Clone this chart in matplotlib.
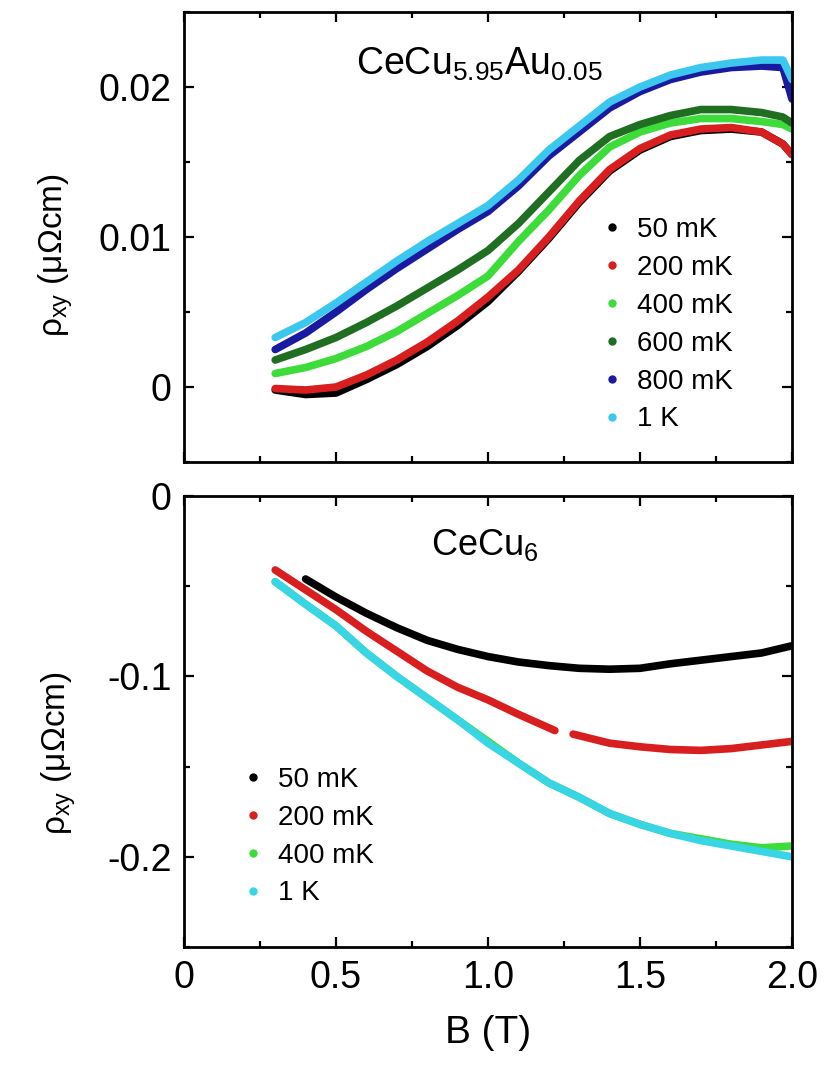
import numpy as np
import matplotlib
matplotlib.use('Agg')
import matplotlib.pyplot as plt
from matplotlib.lines import Line2D
from matplotlib.ticker import MultipleLocator

plt.rcParams['font.family'] = ['Liberation Sans', 'DejaVu Sans']
plt.rcParams['mathtext.fontset'] = 'custom'
plt.rcParams['mathtext.rm'] = 'Liberation Sans'
plt.rcParams['mathtext.default'] = 'regular'

# ---------------------------------------------------------------- top panel
# CeCu5.95Au0.05, B in T, rho_xy in uOhm cm
B_top = [0.3, 0.4, 0.5, 0.6, 0.7, 0.8, 0.9, 1.0, 1.1, 1.2, 1.3, 1.4,
         1.5, 1.6, 1.7, 1.8, 1.9, 1.97, 2.0]
top_50mK = [-0.0002, -0.0005, -0.0004, 0.0005, 0.0015, 0.0027, 0.0041,
            0.0057, 0.0077, 0.0099, 0.0123, 0.0144, 0.0158, 0.0167,
            0.0171, 0.0172, 0.0170, 0.0162, 0.0155]
top_200mK = [-0.0001, -0.0002, 0.0000, 0.0008, 0.0018, 0.0030, 0.0044,
             0.0060, 0.0078, 0.0100, 0.0124, 0.0145, 0.0159, 0.0168,
             0.0172, 0.0173, 0.0170, 0.0162, 0.0155]
top_400mK = [0.0009, 0.0013, 0.0019, 0.0027, 0.0037, 0.0049, 0.0061,
             0.0074, 0.0097, 0.0118, 0.0141, 0.0160, 0.0170, 0.0176,
             0.0179, 0.0179, 0.0177, 0.0175, 0.0172]
top_600mK = [0.0018, 0.0025, 0.0033, 0.0043, 0.0054, 0.0066, 0.0078,
             0.0091, 0.0109, 0.0130, 0.0151, 0.0167, 0.0175, 0.0181,
             0.0185, 0.0185, 0.0183, 0.0180, 0.0176]
top_800mK = [0.0025, 0.0036, 0.0050, 0.0065, 0.0079, 0.0092, 0.0105,
             0.0117, 0.0134, 0.0154, 0.0170, 0.0186, 0.0197, 0.0205,
             0.0210, 0.0213, 0.0214, 0.0213, 0.0192]
top_1K = [0.0033, 0.0043, 0.0056, 0.0070, 0.0084, 0.0097, 0.0109,
          0.0121, 0.0138, 0.0158, 0.0174, 0.0190, 0.0200, 0.0208,
          0.0213, 0.0216, 0.0218, 0.0218, 0.0205]

# ------------------------------------------------------------- bottom panel
# CeCu6
B_50 = [0.4, 0.5, 0.6, 0.7, 0.8, 0.9, 1.0, 1.1, 1.2, 1.3, 1.4, 1.5,
        1.6, 1.7, 1.8, 1.9, 2.0]
bot_50mK = [-0.046, -0.056, -0.065, -0.073, -0.080, -0.085, -0.089,
            -0.092, -0.094, -0.0955, -0.096, -0.0955, -0.093, -0.091,
            -0.089, -0.087, -0.083]
# the 200 mK curve has a gap between 1.22 T and 1.28 T
B_200 = [0.3, 0.4, 0.5, 0.6, 0.7, 0.8, 0.9, 1.0, 1.1, 1.22, 1.25, 1.28,
         1.4, 1.5, 1.6, 1.7, 1.8, 1.9, 2.0]
bot_200mK = [-0.041, -0.052, -0.063, -0.075, -0.086, -0.097, -0.106,
             -0.113, -0.121, -0.130, np.nan, -0.132, -0.137, -0.139,
             -0.1405, -0.141, -0.140, -0.138, -0.136]
B_bot = [0.3, 0.4, 0.5, 0.6, 0.7, 0.8, 0.9, 1.0, 1.1, 1.2, 1.3, 1.4,
         1.5, 1.6, 1.7, 1.8, 1.9, 2.0]
bot_400mK = [-0.0475, -0.060, -0.072, -0.087, -0.100, -0.112, -0.124,
             -0.136, -0.148, -0.159, -0.167, -0.176, -0.182, -0.187,
             -0.190, -0.193, -0.195, -0.194]
bot_1K = [-0.0475, -0.060, -0.072, -0.087, -0.100, -0.112, -0.124,
          -0.137, -0.148, -0.159, -0.167, -0.176, -0.182, -0.187,
          -0.191, -0.194, -0.197, -0.200]

top_labels = ['50 mK', '200 mK', '400 mK', '600 mK', '800 mK', '1 K']
top_colors = ['black', '#d81e1e', '#3ddc3a', '#1f6e22', '#1a1aa0', '#3cc8ee']
bot_labels = ['50 mK', '200 mK', '400 mK', '1 K']
bot_colors = ['black', '#d81e1e', '#3ddc3a', '#38d6e4']

LW = 5.5


def style_axes(ax):
    for s in ax.spines.values():
        s.set_linewidth(2)
    ax.tick_params(which='both', direction='in', top=True, right=True,
                   width=1.6)
    ax.tick_params(which='major', length=7, labelsize=27, pad=9)
    ax.tick_params(which='minor', length=4)
    ax.set_xlim(0, 2.0)
    ax.xaxis.set_major_locator(MultipleLocator(0.5))
    ax.xaxis.set_minor_locator(MultipleLocator(0.25))


def dot_handles(colors, labels):
    return [Line2D([], [], ls='', marker='o', ms=5, color=c, label=l)
            for c, l in zip(colors, labels)]


fig = plt.figure(figsize=(8.3, 10.66), dpi=100)
ax1 = fig.add_axes([0.2217, 0.5666, 0.7325, 0.4221])
ax2 = fig.add_axes([0.2217, 0.1116, 0.7325, 0.4231])

# top panel, 50 mK drawn first so it sits under 200 mK
top_series = [top_50mK, top_200mK, top_400mK, top_600mK, top_800mK, top_1K]
for ys, c in zip(top_series, top_colors):
    ax1.plot(B_top, ys, color=c, lw=LW, solid_capstyle='round')
style_axes(ax1)
ax1.set_ylim(-0.005, 0.025)
ax1.set_yticks([0, 0.01, 0.02])
ax1.set_yticklabels(['0', '0.01', '0.02'])
ax1.yaxis.set_minor_locator(MultipleLocator(0.005))
ax1.tick_params(labelbottom=False)
ax1.set_ylabel('ρ$_{xy}$ (μΩcm)', fontsize=24)
ax1.yaxis.set_label_coords(-0.18, 0.46)
ax1.text(0.283, 0.86, 'CeCu$_{5.95}$Au$_{0.05}$', transform=ax1.transAxes,
         fontsize=27, ha='left', va='baseline')
ax1.legend(handles=dot_handles(top_colors, top_labels), loc='upper left',
           bbox_to_anchor=(0.691, 0.545), frameon=False, fontsize=20,
           handlelength=0.6, handletextpad=0.6, labelspacing=0.43,
           borderpad=0, borderaxespad=0)

# bottom panel
ax2.plot(B_50, bot_50mK, color=bot_colors[0], lw=LW, solid_capstyle='round')
ax2.plot(B_200, bot_200mK, color=bot_colors[1], lw=LW, solid_capstyle='round')
ax2.plot(B_bot, bot_400mK, color=bot_colors[2], lw=LW, solid_capstyle='round')
ax2.plot(B_bot, bot_1K, color=bot_colors[3], lw=LW, solid_capstyle='round')
style_axes(ax2)
ax2.set_ylim(-0.25, 0)
ax2.set_yticks([0, -0.1, -0.2])
ax2.set_yticklabels(['0', '-0.1', '-0.2'])
ax2.yaxis.set_minor_locator(MultipleLocator(0.05))
ax2.set_xticks([0, 0.5, 1.0, 1.5, 2.0])
ax2.set_xticklabels(['0', '0.5', '1.0', '1.5', '2.0'])
ax2.set_xlabel('B (T)', fontsize=28, labelpad=14)
ax2.set_ylabel('ρ$_{xy}$ (μΩcm)', fontsize=24)
ax2.yaxis.set_label_coords(-0.175, 0.43)
ax2.text(0.407, 0.869, 'CeCu$_{6}$', transform=ax2.transAxes,
         fontsize=26, ha='left', va='baseline')
ax2.legend(handles=dot_handles(bot_colors, bot_labels), loc='upper left',
           bbox_to_anchor=(0.099, 0.40), frameon=False, fontsize=20,
           handlelength=0.6, handletextpad=0.6, labelspacing=0.43,
           borderpad=0, borderaxespad=0)

fig.savefig('out.png', dpi=100)
